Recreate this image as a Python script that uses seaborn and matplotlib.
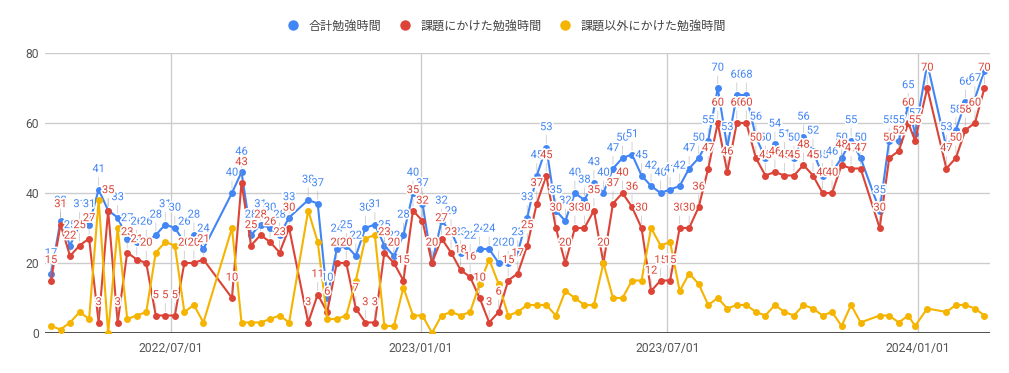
#!/usr/bin/env python3
"""
Weekly study hours: total, on assignments, and other than assignments.
"""

import pandas as pd
import matplotlib.pyplot as plt
import matplotlib.patheffects as pe
from matplotlib.lines import Line2D
import seaborn as sns

# Week dates (a few weeks are missing in the record)
dates = [
    '2022-04-04', '2022-04-11', '2022-04-18', '2022-04-25', '2022-05-02', '2022-05-09',
    '2022-05-16', '2022-05-23', '2022-05-30', '2022-06-06', '2022-06-13', '2022-06-20',
    '2022-06-27', '2022-07-04', '2022-07-11', '2022-07-18', '2022-07-25',
    '2022-08-15', '2022-08-22', '2022-08-29', '2022-09-05', '2022-09-12', '2022-09-19',
    '2022-09-26',
    '2022-10-10', '2022-10-17', '2022-10-24', '2022-10-31', '2022-11-07', '2022-11-14',
    '2022-11-21', '2022-11-28', '2022-12-05', '2022-12-12', '2022-12-19', '2022-12-26',
    '2023-01-02', '2023-01-09', '2023-01-16', '2023-01-23', '2023-01-30', '2023-02-06',
    '2023-02-13', '2023-02-20', '2023-02-27', '2023-03-06', '2023-03-13', '2023-03-20',
    '2023-03-27', '2023-04-03', '2023-04-10', '2023-04-17', '2023-04-24', '2023-05-01',
    '2023-05-08', '2023-05-15', '2023-05-22', '2023-05-29', '2023-06-05', '2023-06-12',
    '2023-06-19', '2023-06-26', '2023-07-03', '2023-07-10', '2023-07-17', '2023-07-24',
    '2023-07-31', '2023-08-07', '2023-08-14', '2023-08-21', '2023-08-28', '2023-09-04',
    '2023-09-11', '2023-09-18', '2023-09-25', '2023-10-02', '2023-10-09', '2023-10-16',
    '2023-10-23', '2023-10-30', '2023-11-06', '2023-11-13', '2023-11-20',
    '2023-12-04', '2023-12-11', '2023-12-18', '2023-12-25', '2023-12-30',
    '2024-01-08',
    '2024-01-22', '2024-01-29', '2024-02-05', '2024-02-12', '2024-02-19',
]

total_hours = [
    17, 32, 25, 31, 31, 41, 35, 33, 27, 26, 26, 28, 31, 30, 26, 28, 24,
    40, 46, 28, 31, 30, 28, 33,
    38, 37, 10, 24, 25, 22, 30, 31, 25, 22, 28, 40,
    37, 20, 32, 29, 23, 22, 24, 24, 20, 20, 23, 33,
    45, 53, 35, 32, 40, 38, 43, 40, 47, 50, 51, 45,
    42, 40, 41, 42, 47, 50, 55, 70, 53, 68, 68, 56,
    50, 54, 51, 50, 56, 52, 45, 46, 50, 55, 50,
    35, 55, 55, 65, 57,
    77,
    53, 58, 66, 67, 75,
]

task_hours = [
    15, 31, 22, 25, 27, 3, 35, 3, 23, 21, 20, 5, 5, 5, 20, 20, 21,
    10, 43, 25, 28, 26, 23, 30,
    3, 11, 6, 20, 20, 7, 3, 3, 23, 20, 15, 35,
    32, 20, 27, 23, 18, 16, 10, 3, 6, 15, 17, 25,
    37, 45, 30, 20, 30, 30, 35, 20, 37, 40, 36, 30,
    12, 15, 15, 30, 30, 36, 47, 60, 46, 60, 60, 50,
    45, 46, 45, 45, 48, 45, 40, 40, 48, 47, 47,
    30, 50, 52, 60, 55,
    70,
    47, 50, 58, 60, 70,
]

other_hours = [
    2, 1, 3, 6, 4, 38, 0, 30, 4, 5, 6, 23, 26, 25, 6, 8, 3,
    30, 3, 3, 3, 4, 5, 3,
    35, 26, 4, 4, 5, 15, 27, 28, 2, 2, 13, 5,
    5, 0, 5, 6, 5, 6, 14, 21, 14, 5, 6, 8,
    8, 8, 5, 12, 10, 8, 8, 20, 10, 10, 15, 15,
    30, 25, 26, 12, 17, 14, 8, 10, 7, 8, 8, 6,
    5, 8, 6, 5, 8, 7, 5, 6, 2, 8, 3,
    5, 5, 3, 5, 2,
    7,
    6, 8, 8, 7, 5,
]

series_names = ['合計勉強時間', '課題にかけた勉強時間', '課題以外にかけた勉強時間']
colors = ['#4285F4', '#DB4437', '#F4B400']
tick_dates = ['2022-07-01', '2023-01-01', '2023-07-01', '2024-01-01']


def build_frame():
    """Long-form table for seaborn."""
    d = pd.to_datetime(dates)
    frames = []
    for name, vals in zip(series_names, [total_hours, task_hours, other_hours]):
        frames.append(pd.DataFrame({'date': d, 'hours': vals, 'series': name}))
    return pd.concat(frames, ignore_index=True)


def main():
    sns.set_theme(style='white')
    plt.rcParams['font.family'] = ['Roboto', 'Noto Sans CJK JP', 'DejaVu Sans']

    df = build_frame()

    fig = plt.figure(figsize=(10.09, 3.73), dpi=100)
    ax = fig.add_axes([45 / 1009, 40 / 373, 945 / 1009, 280 / 373])

    sns.lineplot(data=df, x='date', y='hours', hue='series', hue_order=series_names,
                 palette=colors, marker='o', markersize=5, markeredgewidth=0,
                 linewidth=1.5, legend=False, ax=ax)

    # Value labels on the total and assignment series
    d = pd.to_datetime(dates)
    for vals, c in [(total_hours, colors[0]), (task_hours, colors[1])]:
        for x, v in zip(d, vals):
            if v > 73:
                continue  # label would fall outside the chart area
            ax.annotate(str(v), (x, v), xytext=(0, 12.5), textcoords='offset points',
                        ha='center', va='baseline', color=c, fontsize=8,
                        path_effects=[pe.withStroke(linewidth=2.5, foreground='white')],
                        arrowprops=dict(arrowstyle='-', color='#999999', lw=0.6,
                                        alpha=0.5, shrinkA=0, shrinkB=3))

    ax.set_ylim(0, 80)
    ax.set_yticks([0, 20, 40, 60, 80])
    ax.set_xlim(pd.Timestamp('2022-03-30 14:00'), pd.Timestamp('2024-02-23 02:00'))
    ticks = pd.to_datetime(tick_dates)
    ax.set_xticks(ticks)
    ax.set_xticklabels([t.strftime('%Y/%m/%d') for t in ticks])

    ax.grid(True, color='#cccccc', linewidth=1)
    ax.set_axisbelow(True)
    ax.axhline(0, color='#333333', linewidth=1.2, zorder=1.5)
    for s in ax.spines.values():
        s.set_visible(False)
    ax.tick_params(axis='both', length=0, labelsize=8.7, colors='#555555')
    ax.tick_params(axis='y', pad=4.3)
    ax.tick_params(axis='x', pad=6.3)
    ax.set_xlabel('')
    ax.set_ylabel('')

    handles = [Line2D([], [], marker='o', linestyle='none', color=c, markersize=7.5,
                      markeredgewidth=0) for c in colors]
    fig.legend(handles, series_names, loc='center', bbox_to_anchor=(0.502, 1 - 26 / 373),
               ncol=3, frameon=False, fontsize=8.7, handlelength=1.0,
               handletextpad=0.8, columnspacing=1.4, labelcolor='#444444')

    fig.savefig('out.png', dpi=100)


if __name__ == '__main__':
    main()
